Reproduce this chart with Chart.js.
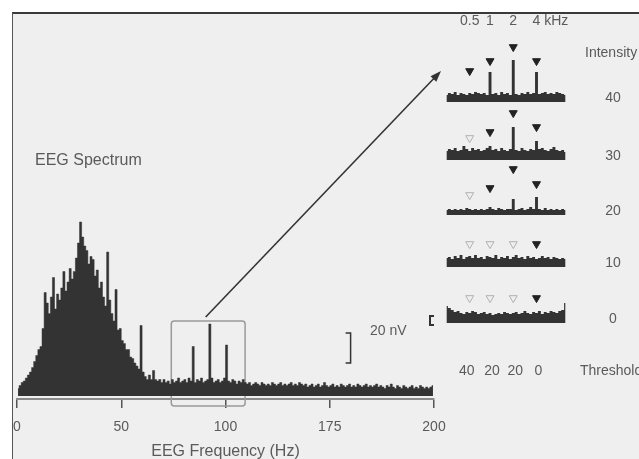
<!DOCTYPE html>
<html>
<head>
<meta charset="utf-8">
<script src="https://cdn.jsdelivr.net/npm/chart.js@4.4.0/dist/chart.umd.min.js"></script>
<style>
  html, body { margin:0; padding:0; background:#fff; width:639px; height:459px; overflow:hidden; }
  #frame { position:absolute; left:12px; top:12px; width:627px; height:447px; background:#efefef; border-top:2px solid #3a3a3a; border-left:1px solid #555; }
  canvas { position:absolute; }
  .lbl { position:absolute; font-family:"Liberation Sans", Arial, sans-serif; color:#5a5a5a; white-space:nowrap; line-height:1; }
</style>
</head>
<body>
<div id="frame"></div>
<canvas id="main" width="639" height="470" style="left:0;top:0"></canvas>
<div id="minis"></div>
<div id="labels"></div>
<script>
// EEG spectrum, 1 Hz bins from 0 to 200 Hz, amplitude in nV
const eegSpectrum = [
  5, 7, 9, 10, 12, 14, 16, 19, 23, 27,
  31, 33, 45, 69, 62, 55, 66, 79, 58, 68,
  64, 72, 83, 70, 76, 85, 78, 83, 92, 102,
  116, 106, 100, 97, 88, 93, 91, 80, 84, 72,
  76, 66, 60, 96, 64, 55, 50, 71, 44, 45,
  37, 35, 31, 31, 26, 25, 22, 20, 18, 47,
  16, 13, 11, 14, 11, 17, 11, 10, 11, 9,
  11, 9, 10, 8, 11, 9, 10, 12, 9, 10,
  11, 9, 12, 10, 33, 9, 11, 10, 12, 9,
  10, 11, 48, 12, 9, 10, 11, 9, 10, 12,
  34, 10, 9, 11, 10, 8, 10, 9, 11, 9,
  8, 9, 7, 8, 9, 8, 7, 9, 8, 7,
  8, 7, 9, 8, 7, 8, 9, 7, 8, 7,
  8, 9, 7, 8, 7, 9, 8, 7, 8, 6,
  7, 8, 6, 7, 8, 6, 7, 9, 7, 6,
  7, 8, 6, 7, 6, 8, 7, 6, 7, 8,
  6, 7, 6, 8, 7, 6, 7, 8, 6, 7,
  6, 7, 8, 6, 7, 6, 5, 7, 6, 8,
  6, 5, 7, 6, 5, 7, 6, 5, 6, 7,
  5, 6, 5, 7, 6, 5, 6, 5, 6, 7
];
const xTickValues = [0, 50, 100, 150, 200];
const xTickLabels = ['0', '50', '100', '175', '200'];
const zoomRange = [74, 109.4];   // Hz, grey box
const zoomTop = 50;              // nV
const scaleBar = [22, 42];       // 20 nV

// zoomed spectra, 1 Hz bins from 69 to 111 Hz, one per intensity
const miniStartHz = 69;
const intensities = ['40', '30', '20', '10', '0'];
const miniSpectra = [
  [7,9,8,10,7,9,8,7,9,8, 10,9,8,9,7,30,8,9,7,10, 8,9,7,42,8,7,9,8,10,8, 9,30,8,9,10,8,9,8,10,9, 8,7],
  [9,11,10,12,9,10,14,11,9,12, 10,11,9,10,12,14,10,11,9,12, 10,9,11,33,10,9,12,10,9,11, 10,19,11,12,10,9,11,13,10,9, 10,8],
  [5,6,5,6,5,6,5,7,6,5, 6,5,6,5,6,8,6,5,7,6, 5,6,6,16,5,6,7,5,6,8, 6,18,6,5,7,5,6,5,6,5, 6,5],
  [9,10,8,11,9,12,8,10,11,9, 12,9,10,8,11,10,9,12,8,10, 9,11,8,10,12,9,10,8,11,9, 10,8,9,11,9,10,8,10,9,8, 9,8],
  [17,15,13,11,12,10,9,11,10,12, 11,9,10,11,9,10,8,9,10,9, 11,10,9,10,11,9,10,12,10,9, 11,10,12,9,11,10,12,11,10,12, 13,20]
];
// carrier tones and their modulation frequency
const toneLabels = ['0.5', '1', '2', '4 kHz'];
const toneHz = [77.5, 84.5, 92.5, 100.5];
const thresholds = ['40', '20', '20', '0'];
// marker heights above each spectrum, and whether the response was detected
const markerHeights = [
  [31, 41, 55, 41],
  [22, 28, 47, 33],
  [20, 27, 46, 31],
  [23, 23, 23, 23],
  [25, 25, 25, 25]
];
const detected = [
  [1, 1, 1, 1],
  [0, 1, 1, 1],
  [0, 1, 1, 1],
  [0, 0, 0, 1],
  [0, 0, 0, 1]
];

const FONT = '"Liberation Sans", Arial, sans-serif';
const INK = '#333';
const TXT = '#5a5a5a';

// layout of the small panels
const miniLeft = 445, miniW = 122, miniH = 70;
const miniBase = [102, 160, 215, 267, 323];

function label(text, x, y, size, align) {
  const d = document.createElement('div');
  d.className = 'lbl';
  d.textContent = text;
  d.style.left = x + 'px';
  d.style.top = y + 'px';
  d.style.fontSize = size + 'px';
  d.style.transform = align === 'left' ? 'translateY(-50%)' : 'translate(-50%,-50%)';
  document.getElementById('labels').appendChild(d);
}

const annot = {
  id: 'annot',
  beforeDatasetsDraw(chart) {
    const {ctx, scales: {x, y}, chartArea} = chart;
    const x0 = x.getPixelForValue(zoomRange[0]), x1 = x.getPixelForValue(zoomRange[1]);
    const y0 = y.getPixelForValue(zoomTop), y1 = chartArea.bottom + 7;
    ctx.save();
    ctx.strokeStyle = '#9a9a9a';
    ctx.lineWidth = 1.5;
    ctx.beginPath();
    ctx.roundRect(x0, y0, x1 - x0, y1 - y0, 3);
    ctx.stroke();
    ctx.restore();
  },
  afterDatasetsDraw(chart) {
    const {ctx, scales: {x, y}} = chart;
    ctx.save();
    // arrow from the box to the zoomed panels
    const ax = x.getPixelForValue(90.5), ay = y.getPixelForValue(zoomTop) - 4;
    const bx = 441, by = 71;
    const ang = Math.atan2(by - ay, bx - ax);
    ctx.strokeStyle = INK; ctx.fillStyle = INK; ctx.lineWidth = 1.6;
    ctx.beginPath();
    ctx.moveTo(ax, ay);
    ctx.lineTo(bx - 8 * Math.cos(ang), by - 8 * Math.sin(ang));
    ctx.stroke();
    ctx.beginPath();
    ctx.moveTo(bx, by);
    ctx.lineTo(bx - 11 * Math.cos(ang) + 4 * Math.sin(ang), by - 11 * Math.sin(ang) - 4 * Math.cos(ang));
    ctx.lineTo(bx - 11 * Math.cos(ang) - 4 * Math.sin(ang), by - 11 * Math.sin(ang) + 4 * Math.cos(ang));
    ctx.closePath();
    ctx.fill();
    // 20 nV scale bar
    const sx = x.getPixelForValue(160);
    const s0 = y.getPixelForValue(scaleBar[0]), s1 = y.getPixelForValue(scaleBar[1]);
    ctx.lineWidth = 1.5;
    ctx.beginPath();
    ctx.moveTo(sx - 5, s1); ctx.lineTo(sx, s1); ctx.lineTo(sx, s0); ctx.lineTo(sx - 5, s0);
    ctx.stroke();
    // small bracket for the zoomed panels
    ctx.lineWidth = 2;
    ctx.beginPath();
    ctx.moveTo(434, 316); ctx.lineTo(430, 316); ctx.lineTo(430, 325); ctx.lineTo(434, 325);
    ctx.stroke();
    ctx.restore();
  }
};

new Chart(document.getElementById('main'), {
  type: 'line',
  data: {
    datasets: [{
      data: eegSpectrum.map((v, i) => ({x: i + 0.5, y: v})),
      stepped: 'middle',
      fill: 'origin',
      backgroundColor: INK,
      borderColor: INK,
      borderWidth: 0.5,
      pointRadius: 0
    }]
  },
  options: {
    responsive: false,
    animation: false,
    devicePixelRatio: 1,
    events: [],
    layout: { autoPadding: false, padding: { left: 17, right: 205, top: 216, bottom: 0 } },
    plugins: { legend: { display: false }, tooltip: { enabled: false } },
    scales: {
      y: { display: false, min: -2, max: 120 },
      x: {
        type: 'linear', min: 0, max: 200,
        afterBuildTicks: s => { s.ticks = xTickValues.map(v => ({value: v})); },
        afterFit: s => { s.height = 71; },
        ticks: {
          callback: v => xTickLabels[xTickValues.indexOf(v)],
          color: TXT, font: { family: FONT, size: 14 }, padding: 11, maxRotation: 0, autoSkip: false
        },
        grid: { drawOnChartArea: false, drawTicks: true, tickLength: 9, color: '#555', lineWidth: 1.5 },
        border: { display: true, color: '#8a8a8a', width: 2 },
        title: { display: true, text: 'EEG Frequency (Hz)', color: TXT, font: { family: FONT, size: 16 }, padding: { top: 4, bottom: 9 } }
      }
    }
  },
  plugins: [annot]
});

// zoomed spectra
let toneX = [];
miniSpectra.forEach((spec, p) => {
  const c = document.createElement('canvas');
  c.width = miniW; c.height = miniH;
  c.style.left = miniLeft + 'px';
  c.style.top = (miniBase[p] - miniH) + 'px';
  document.getElementById('minis').appendChild(c);
  const ch = new Chart(c, {
    type: 'line',
    data: {
      datasets: [{
        data: spec.map((v, i) => ({x: miniStartHz + i + 0.5, y: v})),
        stepped: 'middle', fill: 'origin',
        backgroundColor: INK, borderColor: INK, borderWidth: 0, pointRadius: 0
      }, {
        data: toneHz.map((hz, i) => ({x: hz, y: markerHeights[p][i]})),
        showLine: false,
        pointStyle: 'triangle', rotation: 180, pointRadius: 4.6,
        pointBackgroundColor: detected[p].map(d => d ? '#222' : 'rgba(0,0,0,0)'),
        pointBorderColor: detected[p].map(d => d ? '#222' : '#b0b0b0'),
        pointBorderWidth: 1
      }]
    },
    options: {
      responsive: false, animation: false, devicePixelRatio: 1, events: [],
      layout: { autoPadding: false, padding: 0 },
      plugins: { legend: { display: false }, tooltip: { enabled: false } },
      scales: {
        x: { type: 'linear', display: false, min: miniStartHz, max: miniStartHz + spec.length },
        y: { display: false, min: 0, max: miniH }
      }
    }
  });
  if (p === 0) toneX = toneHz.map(hz => miniLeft + ch.scales.x.getPixelForValue(hz));
});

// texts
label('EEG Spectrum', 35, 160, 16, 'left');
label('20 nV', 370, 330, 14, 'left');
toneLabels.forEach((t, i) => {
  if (i === toneLabels.length - 1) label(t, toneX[i] - 4, 20, 14, 'left');
  else label(t, toneX[i], 20, 14);
});
const thrShift = [-3, 2, 2, 2];
thresholds.forEach((t, i) => label(t, toneX[i] + thrShift[i], 370, 14));
label('Intensity', 585, 52, 14, 'left');
intensities.forEach((t, p) => label(t, 613, miniBase[p] - 5, 14));
label('Threshold', 580, 370, 14, 'left');
</script>
</body>
</html>
